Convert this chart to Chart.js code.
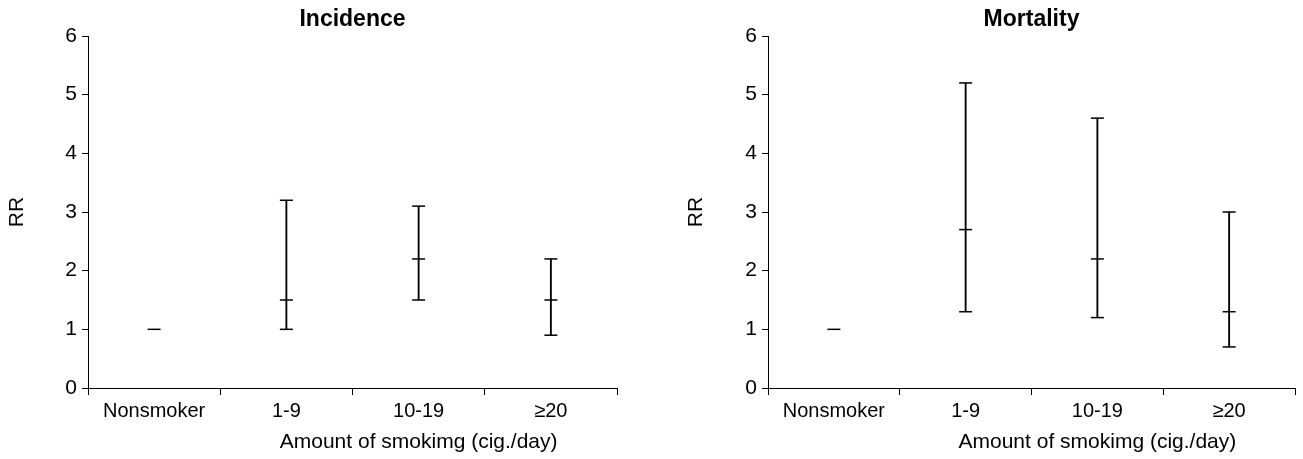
<!DOCTYPE html>
<html>
<head>
<meta charset="utf-8">
<title>RR by amount of smoking</title>
<script src="https://cdn.jsdelivr.net/npm/chart.js@4.4.1/dist/chart.umd.min.js"></script>
<style>
  html, body { margin: 0; padding: 0; background: #fff; }
  .panel { position: absolute; top: 0; }
  #incPanel { left: 0; width: 650px; height: 459px; }
  #morPanel { left: 650px; width: 653px; height: 459px; }
</style>
</head>
<body>
<div class="panel" id="incPanel"><canvas id="incidenceChart" width="650" height="459"></canvas></div>
<div class="panel" id="morPanel"><canvas id="mortalityChart" width="653" height="459"></canvas></div>

<script>
/* =====================================================================
   RR (95% CI) by amount of smoking - incidence and mortality panels
   ===================================================================== */

const categories = ['Nonsmoker', '1-9', '10-19', '≥20'];

const incidenceRR   = [1.0, 1.5, 2.2, 1.5];
const incidenceLow  = [null, 1.0, 1.5, 0.9];
const incidenceHigh = [null, 3.2, 3.1, 2.2];

const mortalityRR   = [1.0, 2.7, 2.2, 1.3];
const mortalityLow  = [null, 1.3, 1.2, 0.7];
const mortalityHigh = [null, 5.2, 4.6, 3.0];

const yMin = 0, yMax = 6, yStep = 1;
const xTitle = 'Amount of smokimg (cig./day)';

const FONT = "'Liberation Sans', Arial, Helvetica, sans-serif";
const INK = '#000';

// panel title + x-axis title drawn relative to the plot area
const panelText = {
  id: 'panelText',
  afterDraw(chart, args, opts) {
    const { ctx, chartArea } = chart;
    const x = chart.scales.x;
    ctx.save();
    ctx.fillStyle = INK;
    ctx.textAlign = 'center';
    ctx.textBaseline = 'middle';
    ctx.font = `bold 23px ${FONT}`;
    ctx.fillText(opts.title, (chartArea.left + chartArea.right) / 2, 20);
    ctx.font = `21px ${FONT}`;
    ctx.fillText(xTitle, x.getPixelForValue(2), 442);
    ctx.restore();
  }
};

function makePanel(canvasId, title, rr, low, high, axisWidth, rrOffset, padRight) {
  const capStyle = {
    type: 'line',
    showLine: false,
    pointStyle: 'line',
    pointRadius: 6.5,
    pointHoverRadius: 6.5,
    pointBorderWidth: 1.5,
    pointBorderColor: INK,
    pointBackgroundColor: INK
  };

  return new Chart(document.getElementById(canvasId), {
    type: 'bar',
    data: {
      labels: categories,
      datasets: [
        {
          label: 'CI',
          data: low.map((l, i) => (l === null ? null : [l, high[i]])),
          backgroundColor: INK,
          borderWidth: 0,
          barThickness: 1.2
        },
        Object.assign({ label: 'Low', data: low }, capStyle),
        Object.assign({ label: 'High', data: high }, capStyle),
        Object.assign({ label: 'RR', data: rr }, capStyle)
      ]
    },
    options: {
      responsive: false,
      animation: false,
      devicePixelRatio: 1,
      layout: { padding: { top: 36, right: padRight, bottom: 0, left: 0 } },
      plugins: {
        legend: { display: false },
        tooltip: { enabled: false },
        panelText: { title }
      },
      scales: {
        x: {
          type: 'category',
          offset: true,
          grid: { offset: true, drawOnChartArea: false, drawTicks: true, tickLength: 7, color: INK, lineWidth: 1 },
          border: { color: INK, width: 1 },
          ticks: { color: INK, font: { family: FONT, size: 20 }, padding: 4, maxRotation: 0 },
          afterFit(scale) { scale.height = 71; }
        },
        y: {
          min: yMin,
          max: yMax,
          grid: { drawOnChartArea: false, drawTicks: true, tickLength: 6, color: INK, lineWidth: 1 },
          border: { color: INK, width: 1 },
          ticks: { stepSize: yStep, color: INK, font: { family: FONT, size: 21 }, padding: 5 },
          title: {
            display: true,
            text: 'RR',
            color: INK,
            font: { family: FONT, size: 21 },
            padding: { top: rrOffset, bottom: 0 }
          },
          afterFit(scale) { scale.width = axisWidth; }
        }
      }
    },
    plugins: [panelText]
  });
}

makePanel('incidenceChart', 'Incidence', incidenceRR, incidenceLow, incidenceHigh, 88, 5, 33);
makePanel('mortalityChart', 'Mortality', mortalityRR, mortalityLow, mortalityHigh, 118, 34, 5);
</script>
</body>
</html>
